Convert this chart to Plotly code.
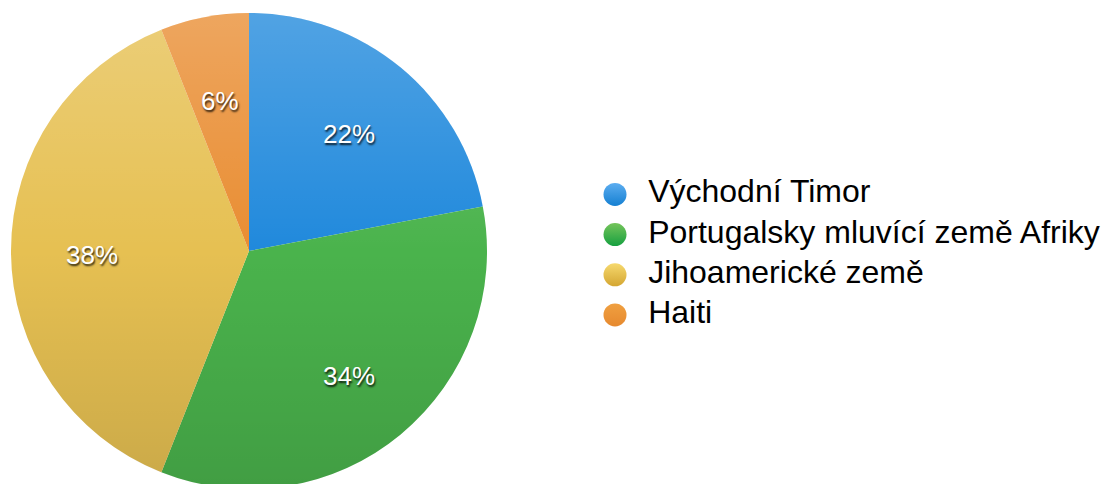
import math
import base64
import plotly.graph_objects as go

labels = ["Východní Timor", "Portugalsky mluvící země Afriky", "Jihoamerické země", "Haiti"]
values = [22, 34, 38, 6]
colors = ["#2089dc", "#4ab34c", "#e6c052", "#e98d32"]
light_colors = ["#5cadf0", "#74c45a", "#f6d96e", "#f0a040"]
dark_colors = ["#1580d2", "#16a040", "#d4a632", "#e6892f"]

W, H = 1109, 484
cx, cy, r = 241, 241, 238   # pie centre (px from left / from bottom) and radius
label_r = 0.66 * r

fig = go.Figure()
fig.add_trace(go.Pie(
    labels=labels, values=values, sort=False, direction="clockwise", rotation=0,
    marker=dict(colors=colors, line=dict(width=0)),
    textinfo="none", showlegend=False, hoverinfo="label+percent",
    domain=dict(x=[(cx - r) / W, (cx + r) / W], y=[(cy - r) / H, (cy + r) / H]),
))

# soft vertical shading over the pie (light at top, darker at bottom)
svg = ("<svg xmlns='http://www.w3.org/2000/svg' width='200' height='200'>"
       "<defs><linearGradient id='g' x1='0' y1='0' x2='0' y2='1'>"
       "<stop offset='0' stop-color='#ffffff' stop-opacity='0.22'/>"
       "<stop offset='0.5' stop-color='#ffffff' stop-opacity='0'/>"
       "<stop offset='0.5' stop-color='#000000' stop-opacity='0'/>"
       "<stop offset='1' stop-color='#000000' stop-opacity='0.12'/>"
       "</linearGradient></defs>"
       "<circle cx='100' cy='100' r='100' fill='url(#g)'/></svg>")
src = "data:image/svg+xml;base64," + base64.b64encode(svg.encode()).decode()
fig.add_layout_image(
    source=src, xref="paper", yref="paper",
    x=(cx - r) / W, y=(cy + r) / H, sizex=2 * r / W, sizey=2 * r / H,
    xanchor="left", yanchor="top", sizing="stretch", layer="above",
)

# percentage labels placed at each slice's mid-angle
total = sum(values)
cum = 0
for v in values:
    mid = (cum + v / 2) / total * 2 * math.pi
    cum += v
    px = cx + label_r * math.sin(mid)
    py = cy + label_r * math.cos(mid)
    fig.add_annotation(
        x=px / W, y=py / H, xref="paper", yref="paper", showarrow=False,
        xanchor="center", yanchor="middle", yshift=-4,
        text=f"{round(100 * v / total)}%",
        font=dict(family="Liberation Sans, Arial, sans-serif", size=26, color="white",
                  shadow="1px 2px 2px rgba(0,0,0,0.8)"),
    )

# legend drawn as a scatter of circles with text
fig.add_trace(go.Scatter(
    x=[0] * len(labels), y=labels, mode="markers+text",
    marker=dict(symbol="circle", size=23, color=light_colors,
                gradient=dict(type="vertical", color=dark_colors)),
    text=["\u00a0\u00a0" + l for l in labels], textposition="middle right",
    textfont=dict(family="Liberation Sans, Arial, sans-serif", size=32, color="black"),
    showlegend=False, hoverinfo="skip", cliponaxis=False,
))

fig.update_layout(
    width=W, height=H, margin=dict(l=0, r=0, t=0, b=0),
    paper_bgcolor="white", plot_bgcolor="white",
    xaxis=dict(visible=False, domain=[0.5, 1.0], range=[-52.5, 502], fixedrange=True),
    yaxis=dict(visible=False, domain=[0.3243, 0.6564], type="category",
               range=[len(labels) - 0.5, -0.5], fixedrange=True),
)
fig.write_html("out.html")
